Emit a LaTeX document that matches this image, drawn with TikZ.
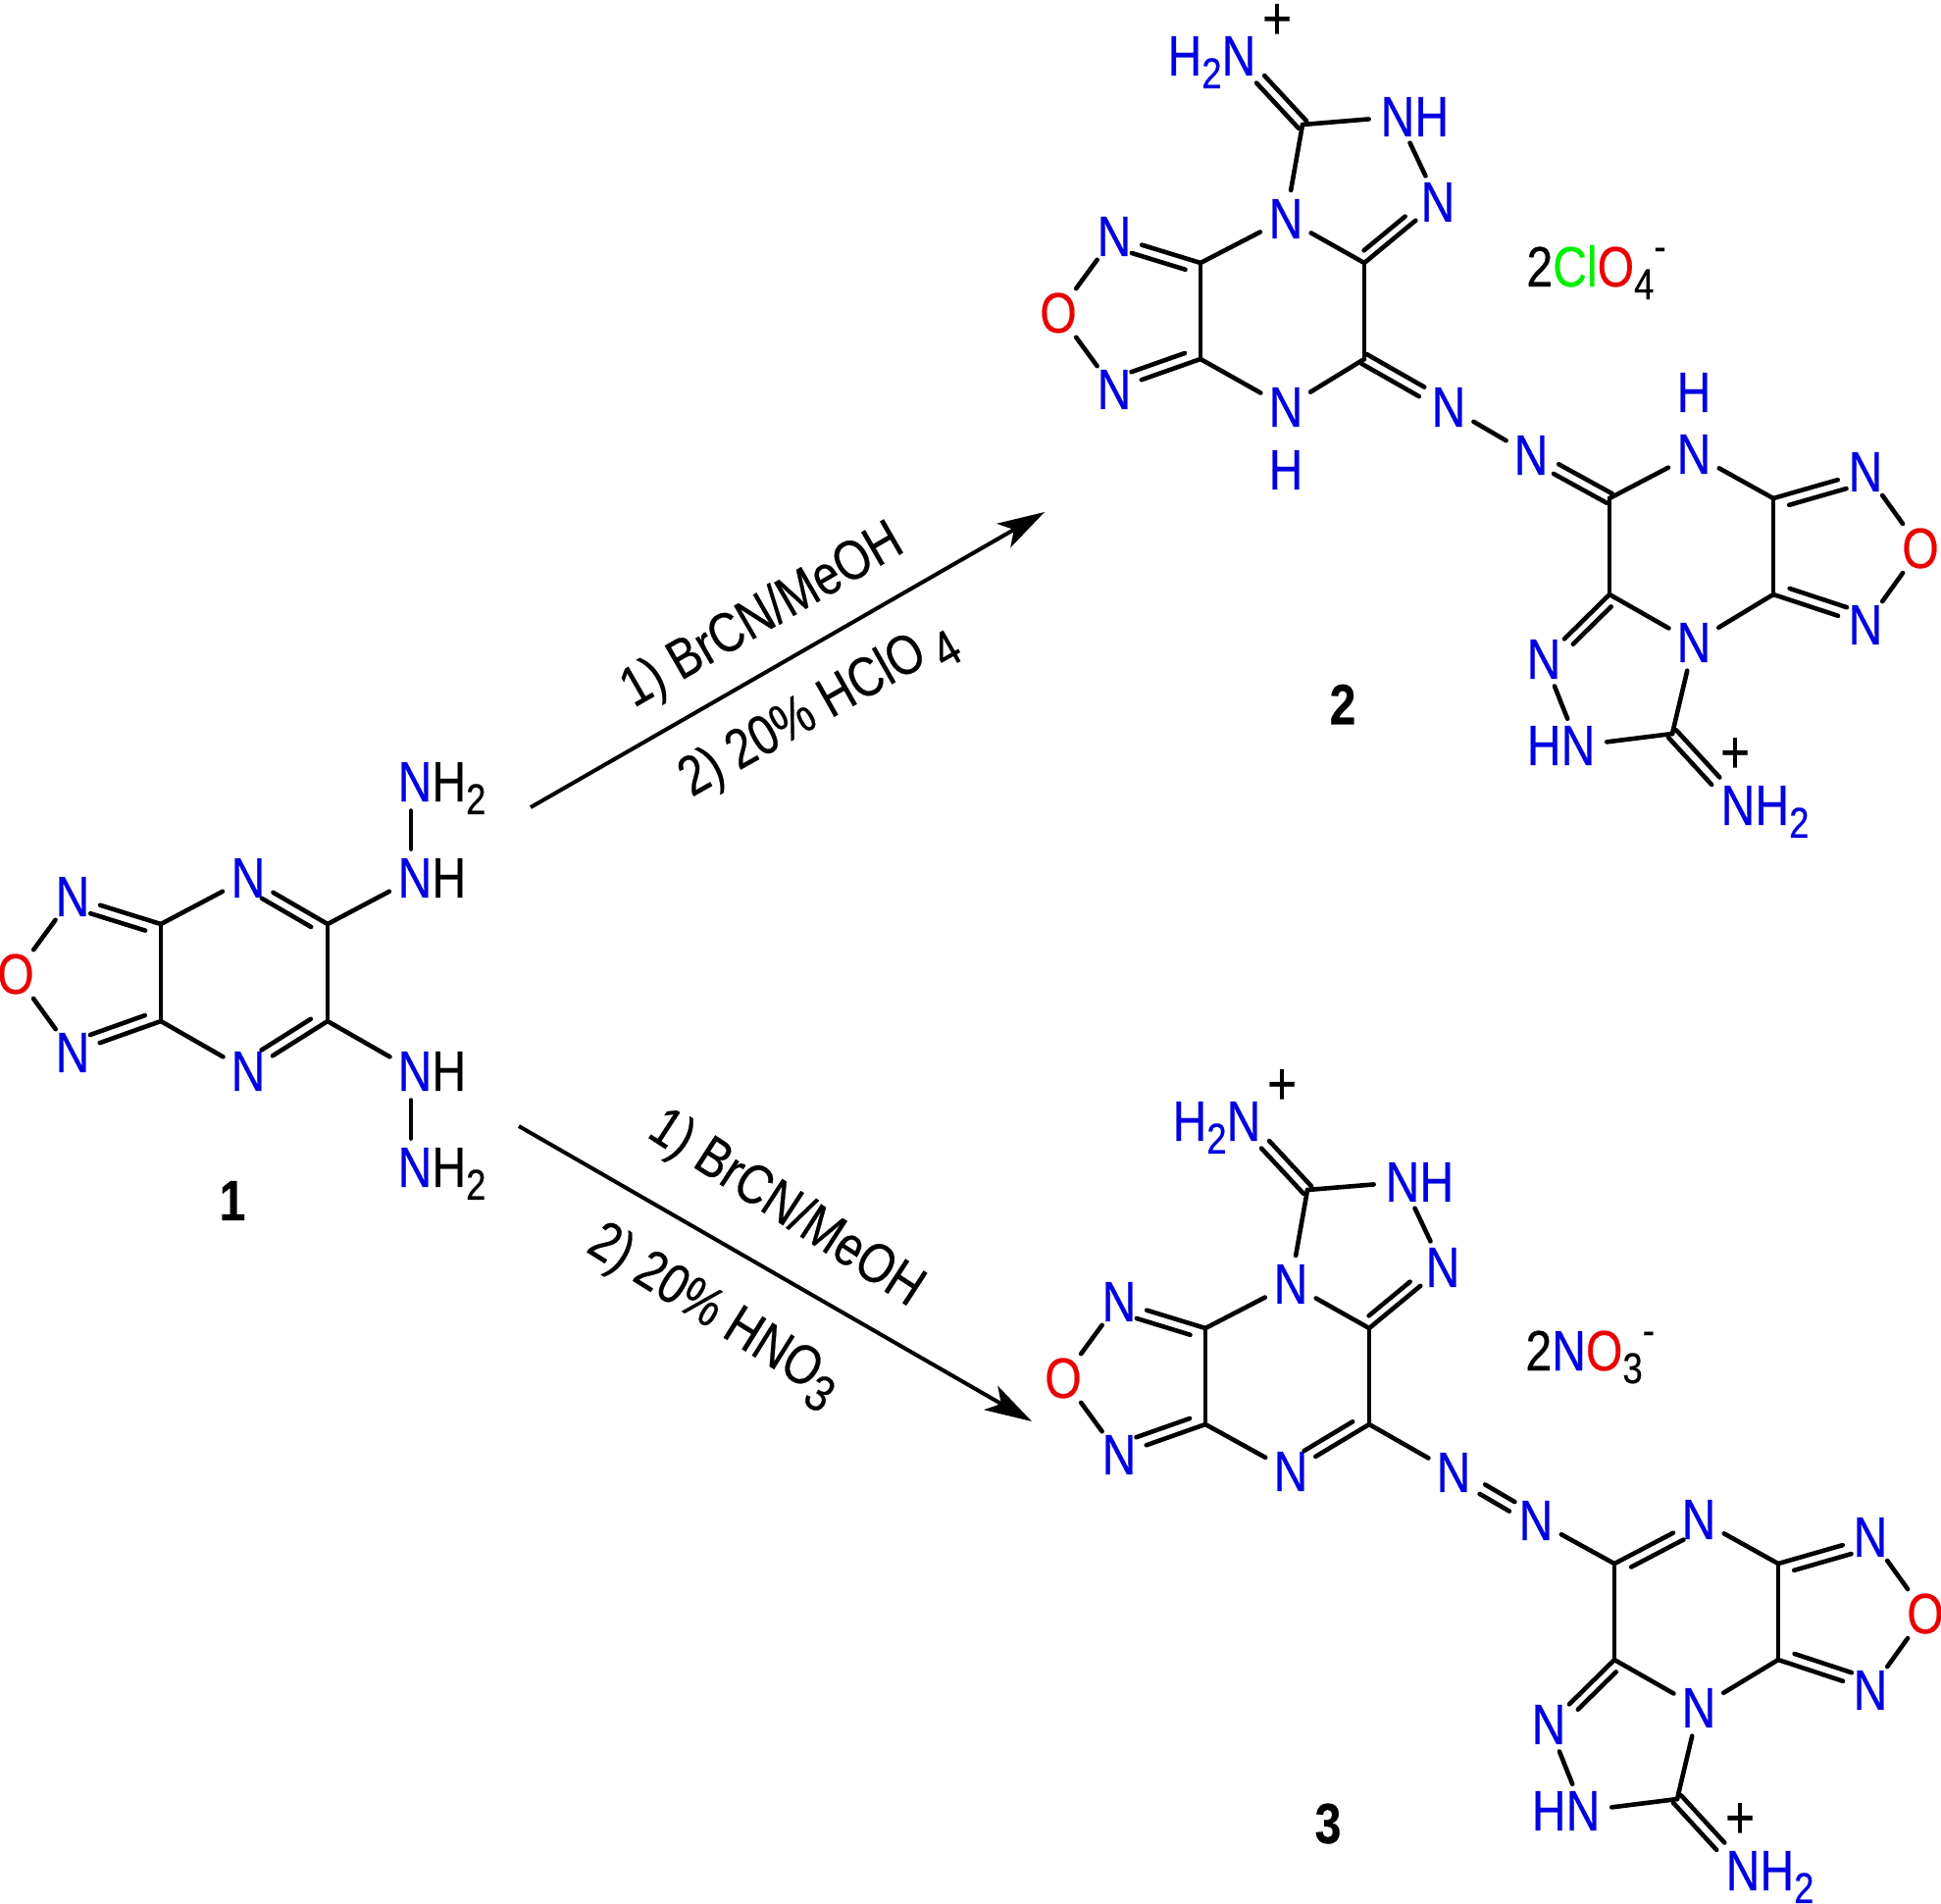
\documentclass[tikz,border=0pt]{standalone}
\usepackage{fontspec}
\setmainfont[FakeStretch=.83,FakeBold=.4]{Liberation Sans}
\usetikzlibrary{arrows.meta,calc}
\definecolor{nblue}{RGB}{0,0,225}
\definecolor{ored}{RGB}{235,0,0}
\definecolor{clgreen}{RGB}{0,240,0}
\newcommand{\atomfont}{\fontsize{29}{30}\selectfont}
\newcommand{\subn}[1]{\smash{\raisebox{-6.5pt}{\fontsize{22}{23}\selectfont #1}}}
\newcommand{\supn}[1]{\smash{\raisebox{13pt}{\fontsize{22}{23}\selectfont #1}}}
\newcommand{\subc}[1]{\smash{\raisebox{-7pt}{\fontsize{26}{27}\selectfont #1}}}
\tikzstyle{atom}=[circle, inner sep=0pt, outer sep=1.5pt, font=\atomfont, text=nblue]
\tikzstyle{oxygen}=[atom, text=ored]
\tikzstyle{charge}=[inner sep=0pt, font=\fontsize{31}{32}\selectfont]
\tikzstyle{cmpd}=[inner sep=0pt, font=\atomfont\bfseries]
\tikzstyle{salt}=[inner sep=0pt, anchor=base west, font=\atomfont]
\tikzstyle{cond}=[inner sep=0pt, anchor=base west, font=\fontsize{28.5}{29}\selectfont]
\tikzstyle{bond}=[draw, line width=2.3pt, line cap=round]
\tikzstyle{rxn}=[draw, line width=2pt, -{Stealth[length=24pt,width=14pt,inset=6pt]}]
\newcommand{\atom}{\node[atom]}
% second line of a double bond: from, to, side
\newcommand{\secondbond}[5]{\draw[bond] ($(#1)!#3!(#2)!#5!90:(#2)$) -- ($(#1)!#4!(#2)!#5!90:(#2)$);}
\newcommand{\pairbond}[4]{\secondbond{#1}{#2}{#3}{#4}{2.75pt}\secondbond{#1}{#2}{#3}{#4}{-2.75pt}}
% what products 2 and 3 have in common
\newcommand{\skeleton}{
\coordinate (ca) at (1224,268);
\coordinate (cb) at (1224,366);
\coordinate (cc) at (1391,268);
\coordinate (cd) at (1391,366);
\coordinate (ct) at (1328,127);
\coordinate (cp) at (1641,508);
\coordinate (cq) at (1641,606);
\coordinate (cr) at (1808,508);
\coordinate (cs) at (1808,606);
\coordinate (cx) at (1705,748);
\atom (nb) at (1311,223) {N};
\atom (nl1) at (1136,241) {N};
\atom (nl2) at (1136,397) {N};
\node[oxygen] (ol) at (1079,319) {O};
\atom (nt) at (1425,119) {N\rlap{H}};
\atom (nu) at (1466,206) {N};
\atom (ni) at (1263,57) {\llap{H\subn{2}}N};
\node[charge] (pi) at (1302,22) {+};
\atom (ne1) at (1477,415) {N};
\atom (ne2) at (1561,464) {N};
\atom (nc) at (1727,655) {N};
\atom (nr1) at (1902,481) {N};
\atom (nr2) at (1902,637) {N};
\node[oxygen] (or) at (1958,559) {O};
\atom (nv) at (1574,672) {N};
\atom (nw) at (1609,760) {\llap{H}N};
\atom (nx) at (1772,821) {N\rlap{H\subn{2}}};
\node[charge] (px) at (1769,770) {+};
\path
(ca) edge (cb) edge (nl1) edge (nb)
(cb) edge (nl2)
(cc) edge (cd) edge (nb) edge (nu)
(ct) edge (nb) edge (nt)
(nt) edge (nu)
(ol) edge (nl1) edge (nl2)
(cq) edge (cp) edge (nc) edge (nv)
(cs) edge (cr) edge (nc) edge (nr2)
(cr) edge (nr1)
(or) edge (nr1) edge (nr2)
(cx) edge (nc) edge (nw)
(nv) edge (nw)
;
\secondbond{ca}{nl1}{.14}{.76}{5.5pt}
\secondbond{cb}{nl2}{.14}{.76}{-5.5pt}
\secondbond{cc}{nu}{.08}{.64}{5pt}
\secondbond{cr}{nr1}{.14}{.76}{-5.5pt}
\secondbond{cs}{nr2}{.14}{.76}{5.5pt}
\secondbond{cq}{nv}{.08}{.66}{5pt}
\pairbond{ct}{ni}{0}{.66}
\pairbond{cx}{nx}{0}{.66}
}
\begin{document}
\begin{tikzpicture}[x=.5pt, y=-.5pt
    ,every edge/.style={bond}
]
\useasboundingbox (0,0) rectangle (1979,1940);
% compound 1
\coordinate (c3a) at (164,942);
\coordinate (c7a) at (164,1041);
\coordinate (c5) at (334,942);
\coordinate (c6) at (334,1041);
\atom (n4) at (253,895) {N};
\atom (n7) at (253,1092) {N};
\atom (n1) at (74,914) {N};
\atom (n3) at (74,1073) {N};
\node[oxygen] (o2) at (16,993) {O};
\atom (nh1) at (423,895) {N\rlap{\color{black}H}};
\atom (nt1) at (423,797) {N\rlap{\color{black}H\subn{2}}};
\atom (nh2) at (423,1092) {N\rlap{\color{black}H}};
\atom (nt2) at (423,1190) {N\rlap{\color{black}H\subn{2}}};
\node[cmpd] (lab1) at (237,1224) {1};
\path
(c3a) edge (c7a) edge (n1) edge (n4)
(c7a) edge (n3) edge (n7)
(c5) edge (c6) edge (n4) edge (nh1)
(c6) edge (n7) edge (nh2)
(o2) edge (n1) edge (n3)
([xshift=-2pt]nh1.north) edge ([xshift=-2pt]nt1.south)
([xshift=-2pt]nh2.south) edge ([xshift=-2pt]nt2.north)
;
\secondbond{c3a}{n1}{.14}{.76}{5.5pt}
\secondbond{c7a}{n3}{.14}{.76}{-5.5pt}
\secondbond{c5}{n4}{.14}{.76}{5.5pt}
\secondbond{c6}{n7}{.14}{.76}{-5.5pt}
% compound 2
\begin{scope}[name prefix=p-]
\skeleton
\atom (nd) at (1311,415) {N};
\atom (hd) at (1311,479) {H};
\atom (nf) at (1727,463) {N};
\atom (hf) at (1727,400) {H};
\path
(cb) edge (nd)
(cd) edge (nd)
(ne1) edge (ne2)
(cp) edge (nf)
(cr) edge (nf)
;
\pairbond{cd}{ne1}{0}{.68}
\pairbond{cp}{ne2}{0}{.68}
\node[salt] (clo) at (1556,292) {2{\color{clgreen}Cl}{\color{ored}O}\subn{4}\supn{-}};
\node[cmpd] (lab2) at (1369,718) {2};
\end{scope}
% compound 3
\begin{scope}[shift={(5,1086)}, name prefix=q-]
\skeleton
\atom (nd) at (1311,414) {N};
\atom (nf) at (1727,463) {N};
\path
(cb) edge (nd)
(cd) edge (nd) edge (ne1)
(ne2) edge (cp)
(cp) edge (nf)
(cr) edge (nf)
;
\secondbond{cd}{nd}{.14}{.76}{-5.5pt}
\secondbond{cp}{nf}{.14}{.76}{-5.5pt}
\pairbond{ne1}{ne2}{.35}{.71}
\node[salt] (no) at (1550,311) {2{\color{nblue}N}{\color{ored}O}\subn{3}\supn{-}};
\node[cmpd] (lab3) at (1349,773) {3};
\end{scope}
% arrows
\coordinate (a1) at (541,823);
\coordinate (a2) at (1065,522);
\coordinate (b1) at (529,1148);
\coordinate (b2) at (1052,1449);
\draw[rxn] (a1) -- (a2);
\draw[rxn] (b1) -- (b2);
\node[cond, rotate=30] (top1) at (646,722) {1) BrCN/MeOH};
\node[cond, rotate=29.5] (top2) at (705,813) {2) 20\% HClO\,\subc{4}};
\node[cond, rotate=-33] (bot1) at (658,1158) {1) BrCN/MeOH};
\node[cond, rotate=-32] (bot2) at (596,1275) {2) 20\% HNO\subc{3}};
\end{tikzpicture}
\end{document}
